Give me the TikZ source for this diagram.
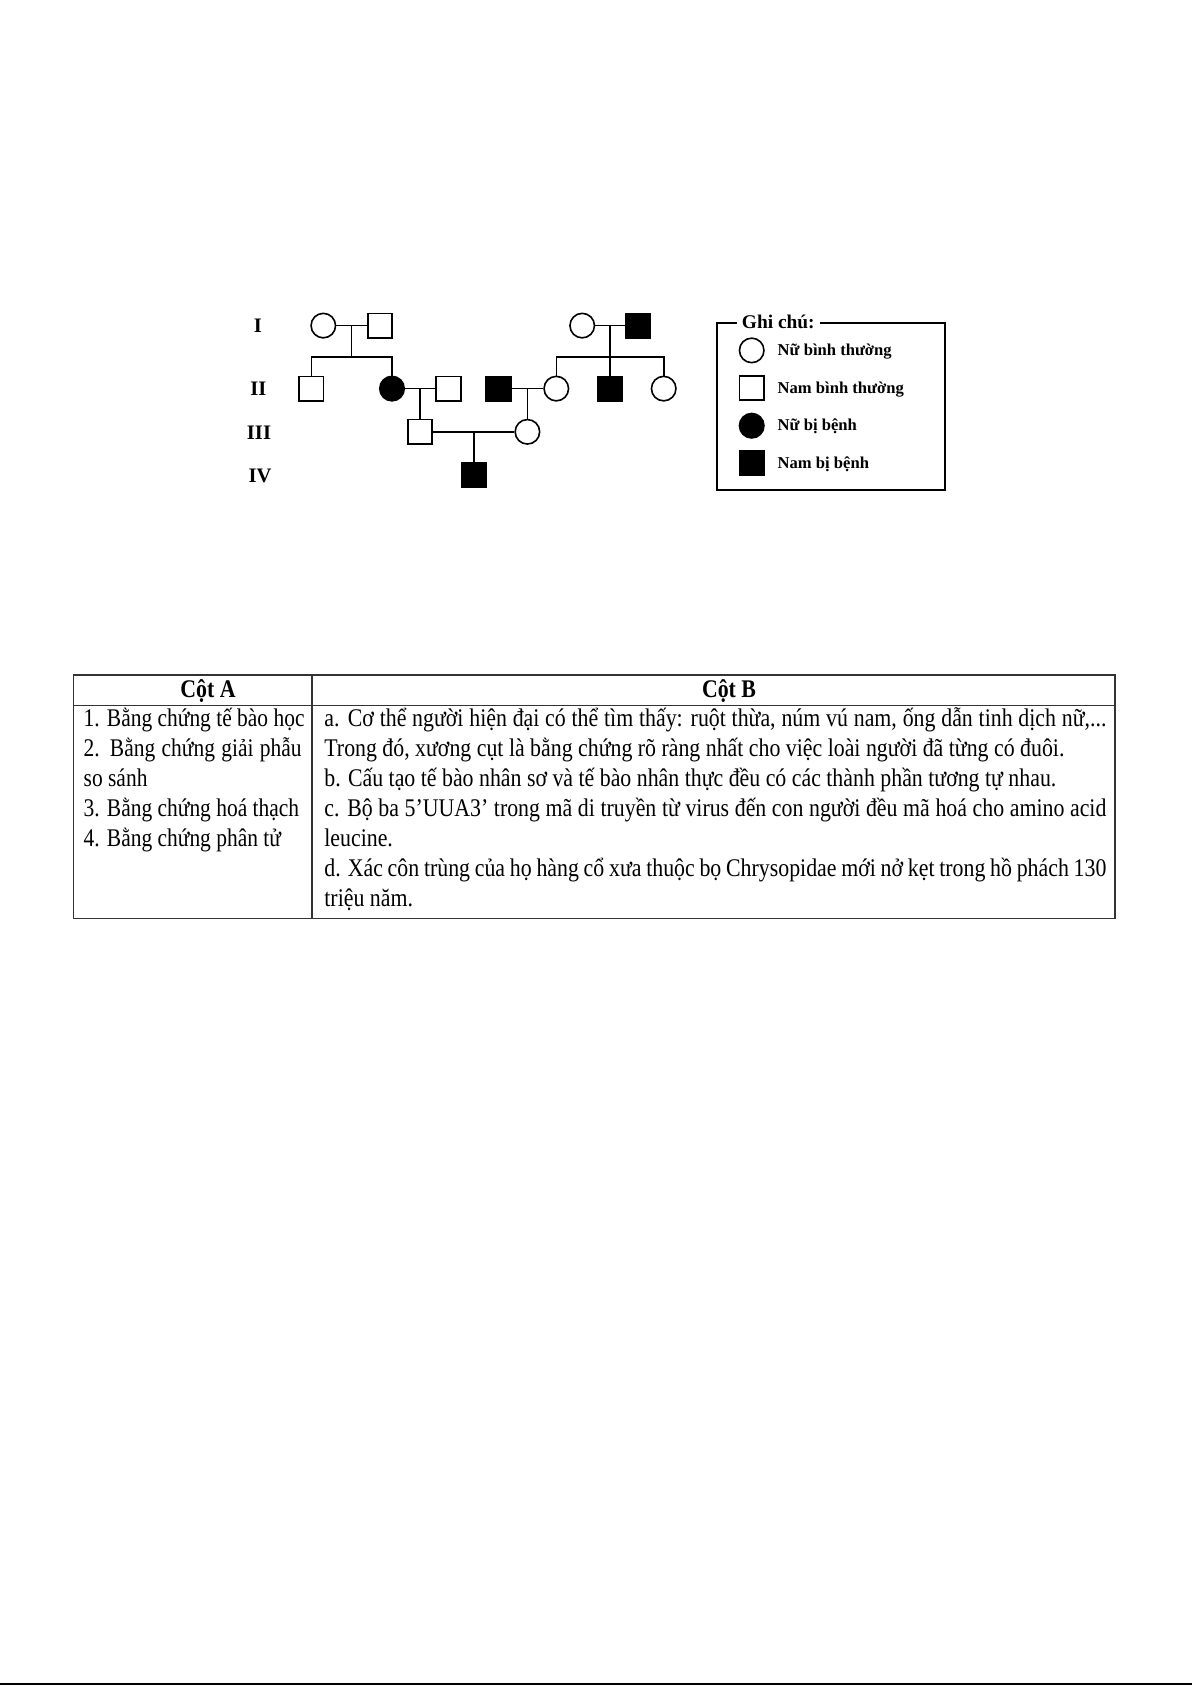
\documentclass[tikz,border=0pt]{standalone}
\usepackage{fontspec}
\setmainfont{Liberation Serif}
\newfontfamily\tabfont[FakeStretch=0.86]{Liberation Serif}
\newfontfamily\colafont[FakeStretch=0.845]{Liberation Serif}
\usetikzlibrary{calc}
\begin{document}
\begin{tikzpicture}[x=0.5pt,y=-0.5pt,
  ind/.style={draw,line width=0.8pt,minimum size=12.25pt,inner sep=0pt},
  fem/.style={ind,circle},
  mal/.style={ind,rectangle},
  aff/.style={fill=black},
  pline/.style={line width=0.8pt},
  gen/.style={font=\fontsize{10.3}{12}\selectfont\bfseries,anchor=center,inner sep=0pt},
  legtxt/.style={font=\fontsize{8.3}{10}\selectfont\bfseries,anchor=base west,inner sep=0pt},
  tline/.style={font=\tabfont\fontsize{12.7}{15}\selectfont,anchor=base west,inner sep=0pt},
  aline/.style={font=\colafont\fontsize{12.7}{15}\selectfont,anchor=base west,inner sep=0pt},
  thead/.style={font=\tabfont\fontsize{12.7}{15}\selectfont\bfseries,anchor=base,inner sep=0pt},
  grid/.style={line width=0.6pt,draw=black!80}]
\fill[white] (0,0) rectangle (1192,1685);
\useasboundingbox (0,0) rectangle (1192,1685);

% ---------- pedigree ----------
\node[gen] (gI)   at (258,325.6) {I};
\node[gen] (gII)  at (258.5,388.8) {II};
\node[gen] (gIII) at (259,432.3) {III};
\node[gen] (gIV)  at (260,475.7) {IV};

\node[fem] (I1) at (323.3,325.6) {};
\node[mal] (I2) at (380,325.6) {};
\node[fem] (I3) at (582.2,325.6) {};
\node[mal,aff] (I4) at (638.3,325.6) {};

\node[mal] (II1) at (311.3,388.6) {};
\node[fem,aff] (II2) at (392,388.6) {};
\node[mal] (II3) at (448.5,388.6) {};
\node[mal,aff] (II4) at (498.5,388.6) {};
\node[fem] (II5) at (556.3,388.6) {};
\node[mal,aff] (II6) at (610,388.6) {};
\node[fem] (II7) at (663.7,388.6) {};

\node[mal] (III1) at (420,431.8) {};
\node[fem] (III2) at (527.4,431.8) {};

\node[mal,aff] (IV1) at (473.8,475.2) {};

\coordinate (m1) at (351.5,325.6);
\coordinate (s1) at (351.5,356.7);
\coordinate (m2) at (610,325.6);
\coordinate (s2) at (610,356.7);
\coordinate (m3) at (420,388.6);
\coordinate (m4) at (527.4,388.6);
\coordinate (m5) at (473.8,431.8);

\draw[pline] (I1) -- (I2);
\draw[pline] (m1) -- (s1);
\draw[pline] (II1.north) -- (II1.north |- s1) -- (II2.north |- s1) -- (II2.north);

\draw[pline] (I3) -- (I4);
\draw[pline] (m2) -- (II6.north);
\draw[pline] (II5.north) -- (II5.north |- s2) -- (II7.north |- s2) -- (II7.north);

\draw[pline] (II2) -- (II3);
\draw[pline] (m3) -- (III1.north);
\draw[pline] (II4) -- (II5);
\draw[pline] (m4) -- (III2.north);
\draw[pline] (III1) -- (III2);
\draw[pline] (m5) -- (IV1.north);

% ---------- legend ----------
\draw[line width=1pt] (716.7,322.7) rectangle (945,490);
\node[font=\fontsize{9.7}{12}\selectfont\bfseries,fill=white,inner xsep=2.5pt,inner ysep=1pt,anchor=base] (lgt) at (778.3,328.5) {Ghi chú:};
\node[fem] (L1) at (751.7,350.4) {};
\node[mal] (L2) at (751.7,388) {};
\node[fem,aff] (L3) at (751.7,425.7) {};
\node[mal,aff] (L4) at (751.7,463.3) {};
\node[legtxt] (T1) at (777.3,355.6) {Nữ bình thường};
\node[legtxt] (T2) at (777.3,393.2) {Nam bình thường};
\node[legtxt] (T3) at (777.3,430.9) {Nữ bị bệnh};
\node[legtxt] (T4) at (777.3,468.5) {Nam bị bệnh};

% ---------- table ----------
\draw[grid] (73.3,675) rectangle (1115,918.3);
\draw[grid] (73.3,705.7) -- (1115,705.7);
\draw[grid] (312,675) -- (312,918.3);

\node[thead] (hA) at (208,697) {Cột A};
\node[thead] (hB) at (729,697) {Cột B};

\node[aline] (a1) at (83.3,726.6) {1. Bằng chứng tế bào học};
\node[aline] (a2) at (83.3,756.6) {\makebox[109pt][s]{2. Bằng chứng giải phẫu}};
\node[aline] (a3) at (83.3,786.5) {so sánh};
\node[aline] (a4) at (83.3,816.5) {3. Bằng chứng hoá thạch};
\node[aline] (a5) at (83.3,846.4) {4. Bằng chứng phân tử};

\node[tline] (b1) at (324,726.6) {\makebox[391pt][s]{a. Cơ thể người hiện đại có thể tìm thấy: ruột thừa, núm vú nam, ống dẫn tinh dịch nữ,...}};
\node[tline] (b2) at (324,756.6) {Trong đó, xương cụt là bằng chứng rõ ràng nhất cho việc loài người đã từng có đuôi.};
\node[tline] (b3) at (324,786.5) {b. Cấu tạo tế bào nhân sơ và tế bào nhân thực đều có các thành phần tương tự nhau.};
\node[tline] (b4) at (324,816.5) {\makebox[391pt][s]{c. Bộ ba 5’UUA3’ trong mã di truyền từ virus đến con người đều mã hoá cho amino acid}};
\node[tline] (b5) at (324,846.4) {leucine.};
\node[tline] (b6) at (324,876.3) {\makebox[391pt][s]{d. Xác côn trùng của họ hàng cổ xưa thuộc bọ Chrysopidae mới nở kẹt trong hồ phách 130}};
\node[tline] (b7) at (324,906.2) {triệu năm.};

% ---------- bottom rule ----------
\coordinate (bl) at (0,1684);
\coordinate (br) at (1192,1684);
\draw[line width=0.6pt] (bl) -- (br);
\end{tikzpicture}
\end{document}
